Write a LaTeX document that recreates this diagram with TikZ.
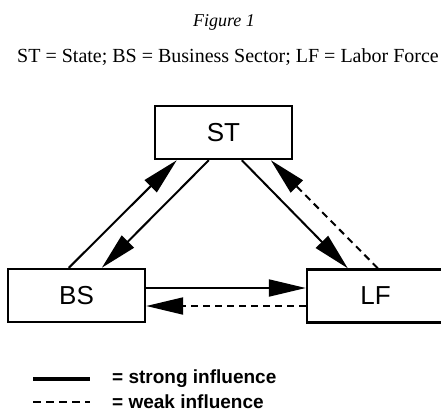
\documentclass[tikz,border=0pt]{standalone}
\usepackage{fontspec}
\setmainfont{Liberation Serif}
\newfontfamily\boxfont{Liberation Sans}
\usetikzlibrary{arrows.meta}
\begin{document}
\begin{tikzpicture}[x=1pt,y=-1pt,
  agent/.style={draw,line width=2.4pt,minimum width=137pt,minimum height=53pt,inner sep=0pt,font=\boxfont\fontsize{26}{30}\selectfont},
  strong/.style={line width=2pt,-{Triangle[length=37pt,width=17pt]}},
  weak/.style={line width=2pt,dash pattern=on 7pt off 5pt,-{Triangle[length=37pt,width=17pt]}},
  legendtext/.style={anchor=west,inner sep=0pt,font=\boxfont\bfseries\fontsize{19}{21}\selectfont}]
\useasboundingbox[fill=white] (0,0) rectangle (441,412);
\node[inner sep=0pt,font=\itshape\fontsize{18}{20}\selectfont] (title) at (224,22) {Figure 1};
\node[inner sep=0pt,font=\fontsize{20}{24}\selectfont] (sub) at (228,57) {ST = State; BS = Business Sector; LF = Labor Force};
\node[agent] (ST) at (223.5,132.5) {ST};
\node[agent] (BS) at (76.5,295.5) {BS};
\node[agent] (LF) at (375.5,296) {LF};
% diagonals
\draw[strong] ([xshift=62pt]BS.north west) -- ([xshift=23pt]ST.south west);
\draw[strong] ([xshift=55pt]ST.south west) -- ([xshift=95pt]BS.north west);
\draw[strong] ([xshift=88pt]ST.south west) -- ([xshift=42pt]LF.north west);
\draw[weak] ([xshift=72pt]LF.north west) -- ([xshift=117pt]ST.south west);
% horizontals
\draw[strong] (BS.east |- 0,288) -- (LF.west |- 0,288);
\draw[weak] (LF.west |- 0,306) -- (BS.east |- 0,306);
% legend
\coordinate (s1) at (33,379);
\coordinate (s2) at (90,379);
\coordinate (w1) at (33,402);
\coordinate (w2) at (90,402);
\draw[line width=3.2pt] (s1) -- (s2);
\draw[line width=2.2pt,dash pattern=on 8pt off 5pt] (w1) -- (w2);
\node[legendtext] (ls) at (112,379) {= strong influence};
\node[legendtext] (lw) at (112,402) {= weak influence};
\end{tikzpicture}
\end{document}
